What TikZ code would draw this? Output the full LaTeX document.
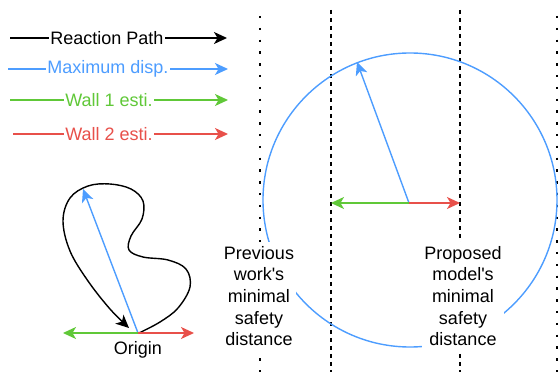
\documentclass[tikz,border=0pt]{standalone}
\usepackage{fontspec}
\setmainfont{Liberation Sans}
\usetikzlibrary{arrows.meta}
\definecolor{cblue}{RGB}{77,157,255}
\definecolor{cgreen}{RGB}{96,200,56}
\definecolor{cred}{RGB}{232,80,74}
\tikzset{
  conn/.style={line width=1.4pt,-{Stealth[length=13pt,width=12pt,inset=3.5pt]}},
  lbl/.style={fill=white,inner sep=1pt,font=\fontsize{18}{21.7}\selectfont},
  txt/.style={fill=white,align=center,inner xsep=2pt,inner ysep=4pt,font=\fontsize{18}{21.7}\selectfont},
  dotline/.style={line width=2pt,dash pattern=on 2.5pt off 9.3pt},
  dashline/.style={line width=1.3pt,dash pattern=on 4pt off 4pt},
}
\begin{document}
\begin{tikzpicture}[x=1pt,y=-1pt]
\useasboundingbox (0,0) rectangle (560,374);
% legend
\coordinate (l1a) at (10,38); \coordinate (l1b) at (227,38);
\coordinate (l2a) at (8,69); \coordinate (l2b) at (228,69);
\coordinate (l3a) at (10,100); \coordinate (l3b) at (228,100);
\coordinate (l4a) at (13,134); \coordinate (l4b) at (228,134);
\draw[conn,black] (l1a) -- (l1b);
\draw[conn,cblue] (l2a) -- (l2b);
\draw[conn,cgreen] (l3a) -- (l3b);
\draw[conn,cred] (l4a) -- (l4b);
\node[lbl,text=black] (t1) at (107,38) {Reaction Path};
\node[lbl,text=cblue] (t2) at (108,69) {Maximum disp.};
\node[lbl,text=cgreen] (t3) at (109,100) {Wall 1 esti.};
\node[lbl,text=cred] (t4) at (109,134) {Wall 2 esti.};
% vertical lines
\coordinate (v1a) at (260,16); \coordinate (v1b) at (260,372);
\coordinate (v2a) at (331,10); \coordinate (v2b) at (331,372);
\coordinate (v3a) at (460,10); \coordinate (v3b) at (460,372);
\coordinate (v4a) at (557,16); \coordinate (v4b) at (557,372);
\draw[dotline] (v1a) -- (v1b);
\draw[dashline] (v2a) -- (v2b);
\draw[dashline] (v3a) -- (v3b);
\draw[dotline] (v4a) -- (v4b);
% big circle
\coordinate (c) at (409,203);
\draw[cblue,line width=1.4pt] (410,200) circle[radius=147];
\coordinate (cb) at (357,62);
\coordinate (cg) at (331,203);
\coordinate (cr) at (460,203);
\draw[conn,cblue] (c) -- (cb);
\draw[conn,cgreen] (c) -- (cg);
\draw[conn,cred] (c) -- (cr);
% texts
\node[txt] (prev) at (259,296) {Previous\\work\textquotesingle s\\minimal\\safety\\distance};
\node[txt] (prop) at (463,296) {Proposed\\model\textquotesingle s\\minimal\\safety\\distance};
% small diagram
\coordinate (o) at (138,333);
\draw[line width=1.4pt,-{Stealth[length=13pt,width=12pt,inset=3.5pt]}] plot[smooth,tension=0.6] coordinates {
 (139,333) (160,322) (178,308) (190,287) (186,269) (168,260) (143,257) (129,250) (131,236) (142,219) (143,201) (131,189) (110,184) (88,186) (70,198) (63,221) (70,251) (88,281) (110,309) (129,328)};
\coordinate (ob) at (83,189);
\coordinate (og) at (63,333);
\coordinate (or) at (194,333);
\draw[conn,cblue] (o) -- (ob);
\draw[conn,cgreen] (o) -- (og);
\draw[conn,cred] (o) -- (or);
\node[font=\fontsize{18}{21.7}\selectfont,inner sep=1pt] (orig) at (138,350) {Origin};
\end{tikzpicture}
\end{document}
